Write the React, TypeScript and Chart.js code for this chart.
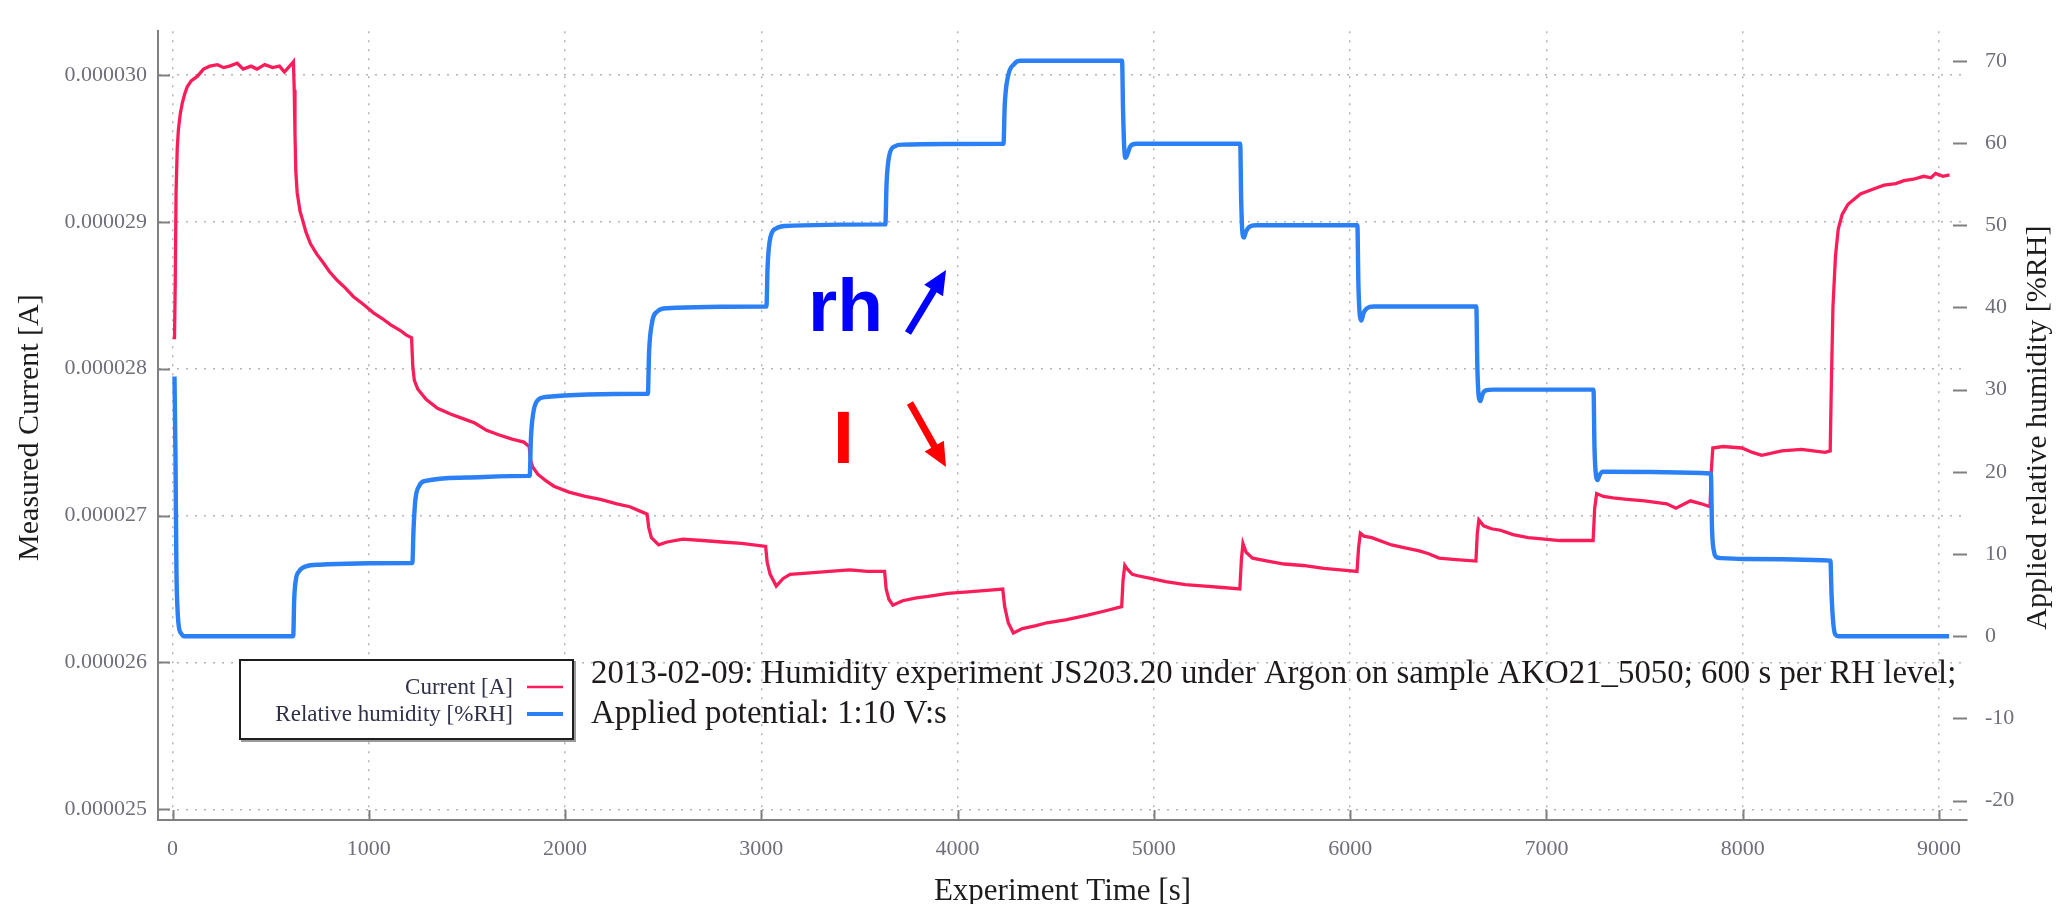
import React, { useEffect, useRef } from "react";
import { Chart, registerables } from "chart.js";

Chart.register(...registerables);

// ---------- tick values ----------
const timeTicks = [0, 1000, 2000, 3000, 4000, 5000, 6000, 7000, 8000, 9000];
const currentTicks = [25e-6, 26e-6, 27e-6, 28e-6, 29e-6, 30e-6];
const humidityTicks = [-20, -10, 0, 10, 20, 30, 40, 50, 60, 70];

// ---------- relative humidity series ----------
const humidityTime = [
  10, 15, 20, 25, 32, 45, 60, 615, 620, 628, 645, 680, 750, 1218,
  1222, 1228, 1237, 1257, 1290, 1500, 1817,
  1820, 1826, 1837, 1860, 1900, 2418,
  2422, 2428, 2442, 2470, 2520, 3022,
  3026, 3032, 3046, 3075, 3120, 3628,
  3632, 3638, 3652, 3680, 3720, 4230,
  4234, 4240, 4256, 4288, 4320, 4838,
  4843, 4850, 4856, 4865, 4880, 4910, 5440,
  5445, 5452, 5459, 5469, 5487, 5520, 6037,
  6042, 6050, 6058, 6068, 6086, 6120, 6643,
  6648, 6656, 6664, 6674, 6691, 6730, 7240,
  7245, 7253, 7261, 7271, 7288, 7838,
  7844, 7854, 7868, 7890, 8000, 8447,
  8453, 8462, 8472, 8488, 9052,
];
const humidityValue = [
  31.6, 22, 8, 3.5, 1.2, 0.3, 0, 0, 4.5, 6.8, 7.9, 8.5, 8.7, 8.9,
  8.9, 13, 16.5, 18.3, 18.9, 19.3, 19.5,
  19.5, 24, 27, 28.7, 29.1, 29.5,
  29.5, 34.5, 38, 39.5, 39.9, 40.1,
  40.1, 45, 48.5, 49.6, 49.9, 50.1,
  50.1, 55, 58.5, 59.6, 59.8, 59.9,
  59.9, 64.5, 68, 69.6, 70, 70,
  64, 59, 58.2, 58.6, 59.6, 59.9, 59.9,
  53, 48.9, 48.5, 49.2, 49.8, 50, 50,
  43, 38.9, 38.4, 39.3, 39.9, 40.1, 40.1,
  33, 29, 28.6, 29.4, 29.9, 30, 30,
  23, 19.5, 19.0, 19.6, 20, 19.8,
  13, 10.3, 9.6, 9.5, 9.4, 9.2,
  5, 1.5, 0.2, 0, 0,
];

// ---------- measured current series (A) ----------
const currentTime = [
  10, 14, 18, 24, 30, 40, 50, 62, 75, 95, 126, 158, 190, 229, 260, 290, 330, 360, 400, 430, 470, 510, 545, 570, 590, 610, 616,
  620, 624, 628, 635, 650, 661, 680, 703, 735, 769, 800, 840, 880, 922, 970, 1024, 1070, 1110, 1161, 1190, 1218,
  1224, 1232, 1250, 1293, 1350, 1419, 1480, 1540, 1600, 1661, 1730, 1790, 1817,
  1824, 1835, 1862, 1900, 1943, 2020, 2103, 2180, 2264, 2330, 2400, 2418,
  2426, 2440, 2477, 2520, 2600, 2700, 2800, 2900, 3022,
  3030, 3045, 3076, 3110, 3146, 3250, 3347, 3450, 3540, 3628,
  3636, 3650, 3670, 3720, 3790, 3851, 3950, 4053, 4150, 4230,
  4240, 4258, 4284, 4330, 4400, 4455, 4550, 4657, 4750, 4836,
  4843, 4852, 4862, 4890, 4918, 4990, 5060, 5160, 5261, 5350, 5438,
  5446, 5454, 5470, 5503, 5580, 5664, 5760, 5866, 5950, 6035,
  6043, 6052, 6070, 6110, 6211, 6280, 6352, 6400, 6453, 6540, 6641,
  6648, 6656, 6680, 6720, 6766, 6830, 6907, 6990, 7069, 7150, 7238,
  7246, 7256, 7290, 7340, 7411, 7500, 7613, 7660, 7734, 7790, 7834,
  7840, 7848, 7900, 7996, 8050, 8097, 8200, 8299, 8360, 8420, 8446,
  8452, 8460, 8473, 8487, 8507, 8537, 8600, 8680, 8721, 8780, 8822, 8870, 8922, 8960, 8983, 9020, 9054,
];
const currentValue = [
  28.2e-6, 28.6e-6, 29.2e-6, 29.5e-6, 29.63e-6, 29.74e-6, 29.81e-6, 29.87e-6, 29.92e-6, 29.96e-6, 29.99e-6, 30.04e-6, 30.06e-6, 30.07e-6, 30.05e-6, 30.06e-6, 30.08e-6, 30.04e-6, 30.06e-6, 30.04e-6, 30.07e-6, 30.05e-6, 30.06e-6, 30.02e-6, 30.05e-6, 30.08e-6, 30.09e-6,
  29.9e-6, 29.6e-6, 29.35e-6, 29.2e-6, 29.07e-6, 29.02e-6, 28.93e-6, 28.85e-6, 28.78e-6, 28.72e-6, 28.66e-6, 28.6e-6, 28.55e-6, 28.49e-6, 28.44e-6, 28.38e-6, 28.34e-6, 28.3e-6, 28.26e-6, 28.23e-6, 28.21e-6,
  28.02e-6, 27.92e-6, 27.86e-6, 27.79e-6, 27.73e-6, 27.69e-6, 27.66e-6, 27.63e-6, 27.58e-6, 27.55e-6, 27.52e-6, 27.5e-6, 27.47e-6,
  27.38e-6, 27.33e-6, 27.28e-6, 27.24e-6, 27.2e-6, 27.16e-6, 27.13e-6, 27.11e-6, 27.08e-6, 27.06e-6, 27.02e-6, 27.01e-6,
  26.92e-6, 26.85e-6, 26.8e-6, 26.82e-6, 26.84e-6, 26.83e-6, 26.82e-6, 26.81e-6, 26.79e-6,
  26.68e-6, 26.6e-6, 26.52e-6, 26.57e-6, 26.6e-6, 26.61e-6, 26.62e-6, 26.63e-6, 26.62e-6, 26.62e-6,
  26.5e-6, 26.43e-6, 26.39e-6, 26.42e-6, 26.44e-6, 26.45e-6, 26.47e-6, 26.48e-6, 26.49e-6, 26.5e-6,
  26.38e-6, 26.27e-6, 26.2e-6, 26.23e-6, 26.25e-6, 26.27e-6, 26.29e-6, 26.32e-6, 26.35e-6, 26.38e-6,
  26.56e-6, 26.66e-6, 26.64e-6, 26.6e-6, 26.59e-6, 26.57e-6, 26.55e-6, 26.53e-6, 26.52e-6, 26.51e-6, 26.5e-6,
  26.7e-6, 26.81e-6, 26.75e-6, 26.71e-6, 26.69e-6, 26.67e-6, 26.66e-6, 26.64e-6, 26.63e-6, 26.62e-6,
  26.78e-6, 26.88e-6, 26.86e-6, 26.85e-6, 26.8e-6, 26.78e-6, 26.76e-6, 26.74e-6, 26.71e-6, 26.7e-6, 26.69e-6,
  26.88e-6, 26.97e-6, 26.93e-6, 26.91e-6, 26.9e-6, 26.87e-6, 26.85e-6, 26.84e-6, 26.83e-6, 26.83e-6, 26.83e-6,
  27.05e-6, 27.15e-6, 27.13e-6, 27.12e-6, 27.11e-6, 27.1e-6, 27.08e-6, 27.05e-6, 27.1e-6, 27.08e-6, 27.06e-6,
  27.3e-6, 27.46e-6, 27.47e-6, 27.46e-6, 27.43e-6, 27.41e-6, 27.44e-6, 27.45e-6, 27.44e-6, 27.43e-6, 27.44e-6,
  27.9e-6, 28.42e-6, 28.77e-6, 28.95e-6, 29.05e-6, 29.12e-6, 29.19e-6, 29.23e-6, 29.25e-6, 29.26e-6, 29.28e-6, 29.29e-6, 29.31e-6, 29.3e-6, 29.33e-6, 29.31e-6, 29.32e-6,
];

const legendLabels = ["Current [A]", "Relative humidity [%RH]"];
const noteLines = [
  "2013-02-09: Humidity experiment JS203.20 under Argon on sample AKO21_5050; 600 s per RH level;",
  "Applied potential: 1:10 V:s",
];

const RED = "#fb1d5a";
const BLUE = "#2a80f4";
const SERIF = "'Liberation Serif', 'Times New Roman', serif";
const TICK_COLOR = "#6f6f7c";
const AXIS_COLOR = "#808080";
const GRID_COLOR = "#b4b4b4";

function drawArrow(ctx: CanvasRenderingContext2D, x1: number, y1: number, x2: number, y2: number, color: string) {
  const ang = Math.atan2(y2 - y1, x2 - x1);
  const head = 24;
  const half = 11;
  const bx = x2 - head * Math.cos(ang);
  const by = y2 - head * Math.sin(ang);
  ctx.save();
  ctx.strokeStyle = color;
  ctx.fillStyle = color;
  ctx.lineWidth = 7;
  ctx.lineCap = "butt";
  ctx.beginPath();
  ctx.moveTo(x1, y1);
  ctx.lineTo(bx + 2 * Math.cos(ang), by + 2 * Math.sin(ang));
  ctx.stroke();
  ctx.beginPath();
  ctx.moveTo(x2, y2);
  ctx.lineTo(bx + half * Math.sin(ang), by - half * Math.cos(ang));
  ctx.lineTo(bx - half * Math.sin(ang), by + half * Math.cos(ang));
  ctx.closePath();
  ctx.fill();
  ctx.restore();
}

const overlayPlugin = {
  id: "overlay",
  afterDatasetsDraw(chart: any) {
    const { ctx, chartArea: ca, scales } = chart;
    ctx.save();
    // inner tick marks
    ctx.strokeStyle = AXIS_COLOR;
    ctx.lineWidth = 2;
    ctx.beginPath();
    currentTicks.forEach((v) => {
      const y = Math.round(scales.yCurrent.getPixelForValue(v)) + 0.5;
      ctx.moveTo(ca.left, y);
      ctx.lineTo(ca.left + 12, y);
    });
    timeTicks.forEach((v) => {
      const x = Math.round(scales.x.getPixelForValue(v)) + 0.5;
      ctx.moveTo(x, ca.bottom);
      ctx.lineTo(x, ca.bottom - 10);
    });
    humidityTicks.forEach((v) => {
      const y = Math.round(scales.yHumidity.getPixelForValue(v)) + 0.5;
      ctx.moveTo(ca.right - 14, y);
      ctx.lineTo(ca.right, y);
    });
    ctx.stroke();

    // axis titles
    ctx.fillStyle = "#1c1c1c";
    ctx.font = `30px ${SERIF}`;
    ctx.textAlign = "center";
    ctx.textBaseline = "alphabetic";
    const midY = (ca.top + ca.bottom) / 2 + 2;
    ctx.save();
    ctx.translate(38, midY);
    ctx.rotate(-Math.PI / 2);
    ctx.fillText("Measured Current [A]", 0, 0);
    ctx.restore();
    ctx.save();
    ctx.translate(2046, midY);
    ctx.rotate(-Math.PI / 2);
    ctx.fillText("Applied relative humidity [%RH]", 0, 0);
    ctx.restore();
    ctx.font = `31px ${SERIF}`;
    ctx.fillText("Experiment Time [s]", (ca.left + ca.right) / 2, 900);

    // legend box
    ctx.fillStyle = "#9a9a9a";
    ctx.fillRect(241, 661, 335, 81);
    ctx.fillStyle = "#ffffff";
    ctx.fillRect(239, 659, 335, 81);
    ctx.strokeStyle = "#1e1e1e";
    ctx.lineWidth = 2;
    ctx.strokeRect(240, 660, 333, 79);
    ctx.font = `23px ${SERIF}`;
    ctx.textAlign = "right";
    ctx.fillStyle = "#30304a";
    ctx.fillText(legendLabels[0], 513, 694);
    ctx.fillText(legendLabels[1], 513, 721);
    ctx.lineWidth = 2.5;
    ctx.strokeStyle = RED;
    ctx.beginPath();
    ctx.moveTo(527, 687);
    ctx.lineTo(563, 687);
    ctx.stroke();
    ctx.lineWidth = 4;
    ctx.strokeStyle = BLUE;
    ctx.beginPath();
    ctx.moveTo(527, 714);
    ctx.lineTo(563, 714);
    ctx.stroke();

    // note text, fitted to measured width
    ctx.textAlign = "left";
    ctx.fillStyle = "#1f1a1a";
    ctx.font = `32px ${SERIF}`;
    const w = ctx.measureText(noteLines[0]).width;
    const size = (32 * 1366) / w;
    ctx.font = `${size.toFixed(2)}px ${SERIF}`;
    ctx.fillText(noteLines[0], 591, 683);
    ctx.fillText(noteLines[1], 591, 723);

    // rh / I annotations with arrows
    ctx.font = `bold 75px 'Liberation Sans', Arial, sans-serif`;
    ctx.fillStyle = "#0000ff";
    ctx.fillText("rh", 808, 331);
    ctx.fillStyle = "#ff0000";
    ctx.fillText("I", 833, 463);
    drawArrow(ctx, 908, 333, 946, 270, "#0000ff");
    drawArrow(ctx, 910, 403, 946, 467, "#ff0000");
    ctx.restore();
  },
};

export default function App() {
  const canvasRef = useRef<HTMLCanvasElement | null>(null);

  useEffect(() => {
    const canvas = canvasRef.current;
    if (!canvas) return;
    const tickFont = { family: SERIF, size: 22 };
    const chart = new Chart(canvas, {
      type: "line",
      data: {
        datasets: [
          {
            label: legendLabels[1],
            data: humidityTime.map((t, i) => ({ x: t, y: humidityValue[i] })),
            yAxisID: "yHumidity",
            borderColor: BLUE,
            borderWidth: 4.4,
            pointRadius: 0,
            cubicInterpolationMode: "monotone",
            order: 0,
          },
          {
            label: legendLabels[0],
            data: currentTime.map((t, i) => ({ x: t, y: currentValue[i] })),
            yAxisID: "yCurrent",
            borderColor: RED,
            borderWidth: 3.3,
            pointRadius: 0,
            tension: 0,
            order: 1,
          },
        ],
      },
      options: {
        responsive: false,
        animation: false,
        layout: { padding: { top: 8, left: 0, right: 0, bottom: 0 } },
        plugins: { legend: { display: false }, tooltip: { enabled: false }, title: { display: false } },
        scales: {
          x: {
            type: "linear",
            min: -74,
            max: 9143,
            afterBuildTicks: (s: any) => {
              s.ticks = timeTicks.map((v) => ({ value: v }));
            },
            afterFit: (s: any) => {
              s.height = 84;
            },
            ticks: { font: tickFont, color: TICK_COLOR, padding: 16, maxRotation: 0, autoSkip: false, callback: (v: any) => String(v) },
            grid: { color: GRID_COLOR, lineWidth: 1.5, drawTicks: false },
            border: { display: true, color: AXIS_COLOR, width: 2, dash: [2, 7] },
          },
          yCurrent: {
            type: "linear",
            position: "left",
            min: 24.927e-6,
            max: 30.298e-6,
            afterBuildTicks: (s: any) => {
              s.ticks = currentTicks.map((v) => ({ value: v }));
            },
            afterFit: (s: any) => {
              s.width = 158;
            },
            ticks: { font: tickFont, color: TICK_COLOR, padding: 11, autoSkip: false, callback: (v: any) => Number(v).toFixed(6) },
            grid: { color: GRID_COLOR, lineWidth: 1.5, drawTicks: false },
            border: { display: true, color: AXIS_COLOR, width: 2, dash: [2, 7] },
          },
          yHumidity: {
            type: "linear",
            position: "right",
            min: -22.36,
            max: 73.6,
            afterBuildTicks: (s: any) => {
              s.ticks = humidityTicks.map((v) => ({ value: v }));
            },
            afterFit: (s: any) => {
              s.width = 96;
            },
            ticks: { font: tickFont, color: TICK_COLOR, padding: 18, autoSkip: false, callback: (v: any) => String(v) },
            grid: { display: false, drawTicks: false },
            border: { display: false },
          },
        },
      },
      plugins: [overlayPlugin],
    } as any);
    return () => chart.destroy();
  }, []);

  return (
    <div style={{ position: "absolute", left: 0, top: 0, width: 2063, height: 904, background: "#ffffff" }}>
      <canvas ref={canvasRef} width={2063} height={904} style={{ display: "block" }} />
    </div>
  );
}
